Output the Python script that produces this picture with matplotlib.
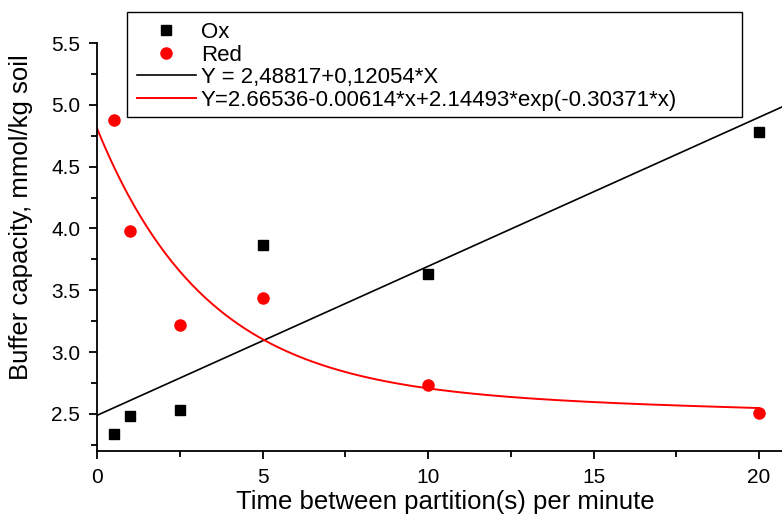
import numpy as np
import matplotlib
matplotlib.use("Agg")
import matplotlib.pyplot as plt
from matplotlib.patches import Rectangle
from matplotlib.ticker import MultipleLocator, FormatStrFormatter

# ================= DATOS =================
tiempo = [0.5, 1, 2.5, 5, 10, 20]
ox = [2.34, 2.48, 2.53, 3.87, 3.63, 4.78]
red = [4.88, 3.98, 3.22, 3.44, 2.73, 2.51]

# coeficientes de ajuste, tal como aparecen en la leyenda
lin_a, lin_b = 2.48817, 0.12054
exp_a, exp_b, exp_c, exp_d = 2.66536, -0.00614, 2.14493, -0.30371

etiqueta_lin = "Y = 2,48817+0,12054*X"
etiqueta_exp = "Y=2.66536-0.00614*x+2.14493*exp(-0.30371*x)"
# =========================================

plt.rcParams['font.family'] = ['Liberation Sans', 'DejaVu Sans']

W, H = 782, 520
fig = plt.figure(figsize=(W / 100, H / 100), dpi=100)
ax = fig.add_axes([97 / W, 69 / H, 1 - 97 / W, (451 - 43) / H])

x_lin = np.linspace(0, 21, 50)
x_exp = np.linspace(0, 20, 300)
ax.plot(x_lin, lin_a + lin_b * x_lin, color='black', linewidth=1.2, label=etiqueta_lin)
ax.plot(x_exp, exp_a + exp_b * x_exp + exp_c * np.exp(exp_d * x_exp),
        color='red', linewidth=1.4, label=etiqueta_exp)

ax.plot(tiempo, ox, 's', color='black', markersize=7, linestyle='none', label='Ox')
ax.plot(tiempo, red, 'o', color='red', markersize=8, linestyle='none', label='Red')

ax.set_xlim(0, (W - 97) / 33.1)
ax.set_ylim(2.2, 5.5)
ax.xaxis.set_major_locator(MultipleLocator(5))
ax.xaxis.set_minor_locator(MultipleLocator(2.5))
ax.yaxis.set_major_locator(MultipleLocator(0.5))
ax.yaxis.set_minor_locator(MultipleLocator(0.25))
ax.yaxis.set_major_formatter(FormatStrFormatter('%.1f'))

for s in ['top', 'right']:
    ax.spines[s].set_visible(False)
for s in ['left', 'bottom']:
    ax.spines[s].set_linewidth(1.3)
ax.tick_params(which='major', direction='out', length=6, width=1.3, labelsize=15, pad=6)
ax.tick_params(which='minor', direction='out', length=4, width=1.3)

ax.set_xlabel("Time between partition(s) per minute", fontsize=18.5)
ax.set_ylabel("Buffer capacity, mmol/kg soil", fontsize=18.5)
ax.xaxis.set_label_coords(0.509, -0.095)
ax.yaxis.set_label_coords(-0.093, 0.572)

# leyenda sin marco; el marco se dibuja aparte (es más ancho que el texto)
handles, labels = ax.get_legend_handles_labels()
orden = [2, 3, 0, 1]
leg = ax.legend([handles[i] for i in orden], [labels[i] for i in orden],
                loc='upper left', bbox_to_anchor=(127 / W, 1 - 12 / H),
                bbox_transform=fig.transFigure, fontsize=16, frameon=False,
                handlelength=2.65, handletextpad=0.22,
                borderpad=0.45, labelspacing=0.07, borderaxespad=0)
fig.patches.append(Rectangle((127 / W, 1 - 117 / H), (742 - 127) / W, 105 / H,
                             transform=fig.transFigure, fill=False,
                             edgecolor='black', linewidth=1.0, zorder=5))

fig.savefig("out.png", dpi=100)
plt.close()
